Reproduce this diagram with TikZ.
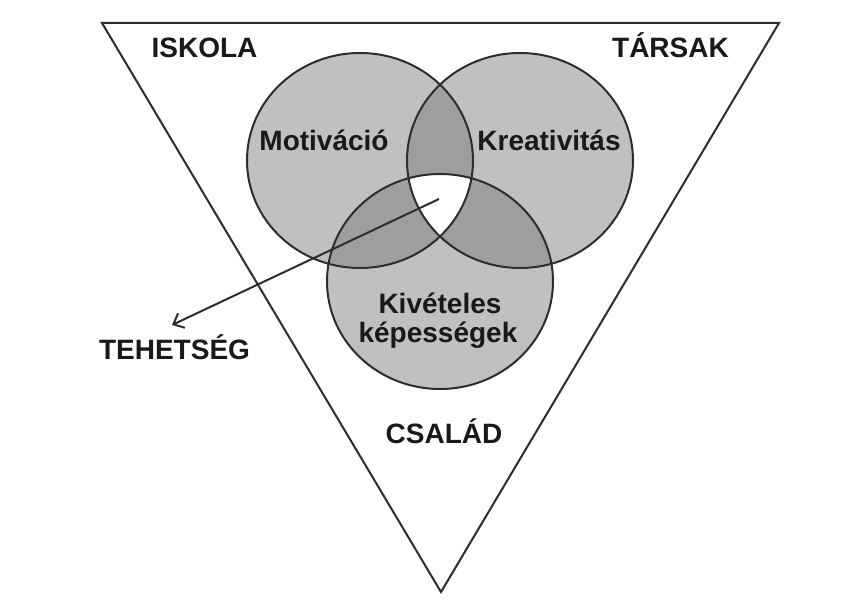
\documentclass[tikz,border=0pt]{standalone}
\usepackage{fontspec}
\setmainfont{Liberation Sans}
\usetikzlibrary{arrows.meta}
\definecolor{lightfill}{RGB}{192,192,192}
\definecolor{darkfill}{RGB}{158,158,158}
\definecolor{inkline}{RGB}{45,45,45}
\definecolor{inktext}{RGB}{25,25,25}
\begin{document}
\begin{tikzpicture}[x=1pt,y=-1pt,
  lbl/.style={font=\fontsize{28}{30}\selectfont\bfseries, text=inktext, anchor=base, inner sep=0pt},
  outline/.style={draw=inkline, line width=2pt},
  pointer/.style={draw=inkline, line width=2pt, -{Straight Barb[length=9pt,width=16pt]}}
  ]
\useasboundingbox[fill=white] (0,0) rectangle (865,610);
% geometry
\coordinate (cL) at (360,160.5);
\coordinate (cR) at (520,160.5);
\coordinate (cB) at (440,281.5);
\coordinate (tl) at (102,23);
\coordinate (tr) at (779,23);
\coordinate (bt) at (441,592);
\def\circL{(cL) ellipse [x radius=113pt, y radius=107.5pt]}
\def\circR{(cR) ellipse [x radius=113pt, y radius=107.5pt]}
\def\circB{(cB) ellipse [x radius=113pt, y radius=107.5pt]}
% triangle
\draw[outline, line join=miter] (tl) -- (tr) -- (bt) -- cycle;
% circle fills
\fill[lightfill] \circL;
\fill[lightfill] \circR;
\fill[lightfill] \circB;
\begin{scope}
  \clip \circL;
  \fill[darkfill] \circR;
  \fill[darkfill] \circB;
\end{scope}
\begin{scope}
  \clip \circR;
  \fill[darkfill] \circB;
\end{scope}
\begin{scope}
  \clip \circL;
  \clip \circR;
  \fill[white] \circB;
\end{scope}
\draw[outline] \circL;
\draw[outline] \circR;
\draw[outline] \circB;
% labels
\node[lbl] (iskola) at (204.5,58) {ISKOLA};
\node[lbl] (tarsak) at (670.5,58) {TÁRSAK};
\node[lbl] (motiv) at (324,150) {Motiváció};
\node[lbl] (kreat) at (549,150) {Kreativitás};
\node[lbl] (kivet) at (440,313) {Kivételes};
\node[lbl] (kepes) at (438,342) {képességek};
\node[lbl] (teh) at (174.5,359) {TEHETSÉG};
\node[lbl] (csal) at (444,443) {CSALÁD};
% arrow
\coordinate (core) at (439,199);
\coordinate (tip) at (172,325);
\draw[pointer] (core) -- (tip);
\end{tikzpicture}
\end{document}
